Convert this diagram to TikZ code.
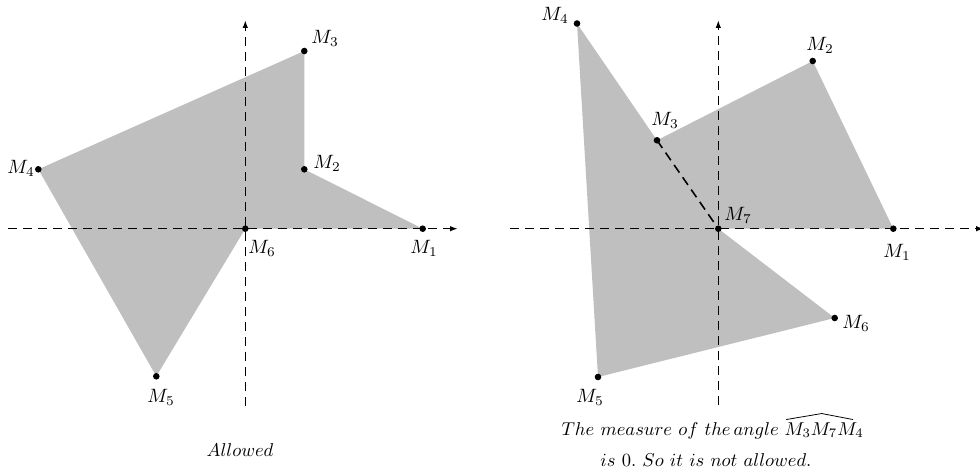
\documentclass[tikz,border=0pt]{standalone}
\usetikzlibrary{arrows.meta,calc}
\begin{document}
\begin{tikzpicture}[x=0.7pt,y=-0.7pt,
  axis/.style={dash pattern=on 6.5pt off 4pt,line width=1.1pt,-{Latex[length=5.5pt,width=3.8pt]}},
  seg/.style={dash pattern=on 6.5pt off 4pt,line width=1.1pt},
  region/.style={fill=black!25,draw=none},
  lbl/.style={inner sep=0pt,scale=1.35,transform shape},
  captext/.style={inner sep=0pt,scale=1.3,transform shape},
  hat/.style={line width=0.55pt,line join=round},
  dot/.style={circle,fill=black,inner sep=0pt,minimum size=4.6pt}]
\useasboundingbox (0,0) rectangle (980,473);
% left figure points
\coordinate (L1) at (422.7,228.7);
\coordinate (L2) at (304.3,169.3);
\coordinate (L3) at (304.3,51);
\coordinate (L4) at (38.3,169.3);
\coordinate (L5) at (156.3,376.3);
\coordinate (L6) at (245.3,228.7);
\coordinate (LxA) at (8,228.7);
\coordinate (LxB) at (458,228.7);
\coordinate (LyA) at (245.3,406);
\coordinate (LyB) at (245.3,20);
\fill[region] (L1) -- (L2) -- (L3) -- (L4) -- (L5) -- (L6) -- cycle;
\draw[axis] (LxA) -- (LxB);
\draw[axis] (LyA) -- (LyB);
\foreach \p in {L1,L2,L3,L4,L5,L6} \node[dot] at (\p) {};
\node[lbl] (tL1) at (424,248) {$M_1$};
\node[lbl] (tL2) at (327,163) {$M_2$};
\node[lbl] (tL3) at (325,38) {$M_3$};
\node[lbl] (tL4) at (21,168) {$M_4$};
\node[lbl] (tL5) at (161,397) {$M_5$};
\node[lbl] (tL6) at (262,248) {$M_6$};
\node[captext] (capL) at (240,450) {$Allowed$};
% right figure points
\coordinate (R1) at (893.3,228.7);
\coordinate (R2) at (812.7,61);
\coordinate (R3) at (657,140.3);
\coordinate (R4) at (577,23.5);
\coordinate (R5) at (598,377);
\coordinate (R6) at (834.7,318);
\coordinate (R7) at (718.3,228.7);
\coordinate (RxA) at (510,228.7);
\coordinate (RxB) at (984,228.7);
\coordinate (RyA) at (718.3,405);
\coordinate (RyB) at (718.3,20);
\fill[region] (R1) -- (R2) -- (R3) -- (R4) -- (R5) -- (R6) -- (R7) -- cycle;
\draw[axis] (RxA) -- (RxB);
\draw[axis] (RyA) -- (RyB);
\draw[seg] (R3) -- (R7);
\foreach \p in {R1,R2,R3,R4,R5,R6,R7} \node[dot] at (\p) {};
\node[lbl] (tR1) at (897,252) {$M_1$};
\node[lbl] (tR2) at (820,45) {$M_2$};
\node[lbl] (tR3) at (665,120) {$M_3$};
\node[lbl] (tR4) at (555,15) {$M_4$};
\node[lbl] (tR5) at (590,397) {$M_5$};
\node[lbl] (tR6) at (856,323) {$M_6$};
\node[lbl] (tR7) at (738,215) {$M_7$};
\node[captext,anchor=base east] (ang) at (864,435) {$M_3M_7M_4$};
\node[captext,anchor=base east] (capR1) at ($(ang.base west)+(-5,0)$) {$The\ measure\ of\ the\,angle$};
\draw[hat] ($(ang.north west)+(2,-2.4)$) -- ($(ang.north west)!0.47!(ang.north east)+(0,-8.4)$) -- ($(ang.north east)+(-11,-2.4)$);
\node[captext] (capR2) at (706,460) {$is\ 0.\ So\ it\ is\ not\ allowed.$};
\end{tikzpicture}
\end{document}
